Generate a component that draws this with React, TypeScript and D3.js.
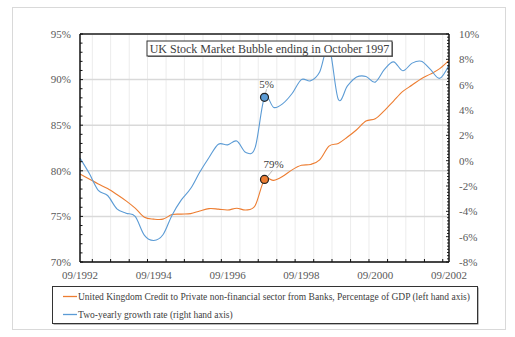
import React from 'react';
import * as d3 from 'd3';

// quarterly observations, 09/1992 .. 09/2002
const quarters = [
  '1992-09', '1992-12', '1993-03', '1993-06', '1993-09', '1993-12', '1994-03', '1994-06',
  '1994-09', '1994-12', '1995-03', '1995-06', '1995-09', '1995-12', '1996-03', '1996-06',
  '1996-09', '1996-12', '1997-03', '1997-06', '1997-09', '1997-12', '1998-03', '1998-06',
  '1998-09', '1998-12', '1999-03', '1999-06', '1999-09', '1999-12', '2000-03', '2000-06',
  '2000-09', '2000-12', '2001-03', '2001-06', '2001-09', '2001-12', '2002-03', '2002-06',
  '2002-09',
];

// credit to private non-financial sector, % of GDP (left axis)
const creditGdp = [
  79.65, 79.1, 78.55, 78.05, 77.4, 76.7, 75.9, 74.9,
  74.7, 74.7, 75.2, 75.25, 75.3, 75.6, 75.85, 75.8,
  75.7, 75.9, 75.7, 76.2, 79.05, 78.95, 79.4, 80.1,
  80.6, 80.7, 81.2, 82.7, 83.0, 83.7, 84.5, 85.45,
  85.7, 86.6, 87.65, 88.7, 89.4, 90.1, 90.6, 91.2,
  92.1,
];

// two-yearly growth rate, % (right axis)
const growthRate = [
  0.2, -1.0, -2.35, -2.75, -3.8, -4.15, -4.4, -5.9,
  -6.3, -5.85, -4.3, -3.1, -2.2, -0.9, 0.25, 1.3,
  1.25, 1.55, 0.65, 1.05, 5.0, 4.2, 4.5, 5.3,
  6.4, 6.3, 7.0, 9.0, 4.85, 5.9, 6.6, 6.65,
  6.2, 7.2, 7.8, 7.1, 7.7, 7.85, 7.2, 6.5,
  7.55,
];

const leftTicks = [70, 75, 80, 85, 90, 95];
const rightTicks = [-8, -6, -4, -2, 0, 2, 4, 6, 8, 10];
const xLabels = ['09/1992', '09/1994', '09/1996', '09/1998', '09/2000', '09/2002'];

const bubbleIndex = 20; // October 1997
const titleText = 'UK Stock Market Bubble ending in October 1997';
const legendCredit = 'United Kingdom Credit to Private non-financial sector from Banks, Percentage of GDP (left hand axis)';
const legendGrowth = 'Two-yearly growth rate (right hand axis)';

const ORANGE = '#ED7D31';
const BLUE = '#5B9BD5';
const FONT = "'Liberation Serif', 'DejaVu Serif', serif";

export default function App() {
  const width = 515;
  const height = 337;
  const plot = { left: 80, right: 449, top: 34, bottom: 262 };

  const parse = d3.timeParse('%Y-%m');
  const dates = quarters.map(q => parse(q) as Date);
  const labelDates = xLabels.map(s => d3.timeParse('%m/%Y')(s) as Date);

  const x = d3.scaleTime()
    .domain([dates[0], dates[dates.length - 1]])
    .range([plot.left, plot.right]);
  const yL = d3.scaleLinear().domain([70, 95]).range([plot.bottom, plot.top]);
  const yR = d3.scaleLinear().domain([-8, 10]).range([plot.bottom, plot.top]);

  const halfYears = d3.timeMonth.every(6)!.range(dates[0], d3.timeMonth.offset(dates[dates.length - 1], 1));
  const leftMinor = d3.range(70, 95.01, 1);
  const rightMinor = d3.range(-8, 10.01, 0.25);

  const curve = d3.curveCardinal.tension(0);
  const creditLine = d3.line<number>()
    .x((_, i) => x(dates[i]))
    .y(d => yL(d))
    .curve(curve);
  const growthLine = d3.line<number>()
    .x((_, i) => x(dates[i]))
    .y(d => yR(d))
    .curve(curve);

  const bx = x(dates[bubbleIndex]);
  const bCredit = yL(creditGdp[bubbleIndex]);
  const bGrowth = yR(growthRate[bubbleIndex]);

  const txt = { fontFamily: FONT };

  return (
    <svg width={width} height={height}
      style={{ position: 'absolute', left: 0, top: 0, background: '#fff', fontFamily: FONT }}>
      <rect x={12.5} y={7.5} width={493} height={322} fill="#fff" stroke="#d9d9d9" />

      {/* gridlines */}
      {halfYears.map((d, i) => {
        const major = d.getFullYear() % 2 === 0 && d.getMonth() === 8;
        return (
          <line key={'gv' + i} x1={x(d)} x2={x(d)} y1={plot.top} y2={plot.bottom}
            stroke={major ? '#d9d9d9' : '#ececec'} strokeWidth={major ? 1.5 : 1} />
        );
      })}
      {leftTicks.map(t => (
        <line key={'gh' + t} x1={plot.left} x2={plot.right} y1={yL(t)} y2={yL(t)}
          stroke="#d9d9d9" strokeWidth={1.5} />
      ))}

      <path d={creditLine(creditGdp) || ''} fill="none" stroke={ORANGE} strokeWidth={1.1} />
      <path d={growthLine(growthRate) || ''} fill="none" stroke={BLUE} strokeWidth={1.1} />

      {/* axes frame */}
      <line x1={plot.left} x2={plot.right} y1={plot.top} y2={plot.top} stroke="#222" strokeWidth={1.3} />
      <line x1={plot.left} x2={plot.right} y1={plot.bottom} y2={plot.bottom} stroke="#111" strokeWidth={1.5} />
      <line x1={plot.left} x2={plot.left} y1={plot.top} y2={plot.bottom} stroke="#111" strokeWidth={1.5} />
      <line x1={plot.right} x2={plot.right} y1={plot.top} y2={plot.bottom} stroke="#111" strokeWidth={1.5} />

      {leftMinor.map(t => (
        <line key={'lt' + t} x1={plot.left} x2={plot.left + (t % 5 === 0 ? 3 : 2.5)} y1={yL(t)} y2={yL(t)}
          stroke="#111" />
      ))}
      {rightMinor.map(t => (
        <line key={'rt' + t} x1={plot.right - (t % 2 === 0 ? 3 : 2)} x2={plot.right} y1={yR(t)} y2={yR(t)}
          stroke="#111" strokeWidth={0.9} />
      ))}
      {halfYears.map((d, i) => (
        <line key={'xt' + i} x1={x(d)} x2={x(d)} y1={plot.bottom} y2={plot.bottom - 3} stroke="#111" />
      ))}

      {/* tick labels */}
      {leftTicks.map(t => (
        <text key={'ll' + t} style={txt} x={71} y={yL(t)} dy="0.35em" textAnchor="end" fontSize={11} fill="#595959">
          {t}%
        </text>
      ))}
      {rightTicks.map(t => (
        <text key={'rl' + t} style={txt} x={459} y={yR(t)} dy="0.35em" textAnchor="start" fontSize={11} fill="#595959">
          {t}%
        </text>
      ))}
      {labelDates.map((d, i) => (
        <text key={'xl' + i} style={txt} x={x(d)} y={279} textAnchor="middle" fontSize={11} fill="#595959">
          {xLabels[i]}
        </text>
      ))}

      {/* bubble markers */}
      <line x1={bx + 1} y1={bGrowth - 4} x2={bx + 2} y2={bGrowth - 8} stroke="#a6a6a6" strokeWidth={0.8} />
      <circle cx={bx} cy={bGrowth} r={4} fill={BLUE} stroke="#222" strokeWidth={1.2} />
      <text style={txt} x={bx + 2} y={bGrowth - 9} textAnchor="middle" fontSize={11} fill="#404040">
        {d3.format('.0f')(growthRate[bubbleIndex])}%
      </text>
      <line x1={bx + 3} y1={bCredit - 3} x2={bx + 8} y2={bCredit - 9} stroke="#a6a6a6" strokeWidth={0.8} />
      <circle cx={bx} cy={bCredit} r={4} fill={ORANGE} stroke="#222" strokeWidth={1.2} />
      <text style={txt} x={bx + 9} y={bCredit - 11} textAnchor="middle" fontSize={11} fill="#404040">
        {d3.format('.0f')(creditGdp[bubbleIndex])}%
      </text>

      {/* title box */}
      <rect x={148} y={42} width={245} height={15} fill="#777" />
      <rect x={147} y={41} width={245} height={15} fill="#fff" stroke="#333" strokeWidth={1} />
      <text style={txt} x={269.5} y={52.5} textAnchor="middle" fontSize={12} fill="#404040">{titleText}</text>

      {/* legend */}
      <rect x={53.5} y={287.5} width={425} height={37} fill="#777" />
      <rect x={52.5} y={286.5} width={425} height={37} fill="#fff" stroke="#333" strokeWidth={1} />
      <line x1={63} x2={77} y1={296.5} y2={296.5} stroke={ORANGE} strokeWidth={1.3} />
      <text style={txt} x={78} y={296.5} dy="0.35em" fontSize={9.5} fill="#404040">{legendCredit}</text>
      <line x1={63} x2={77} y1={314.5} y2={314.5} stroke={BLUE} strokeWidth={1.3} />
      <text style={txt} x={78} y={314.5} dy="0.35em" fontSize={9.5} fill="#404040">{legendGrowth}</text>
    </svg>
  );
}
